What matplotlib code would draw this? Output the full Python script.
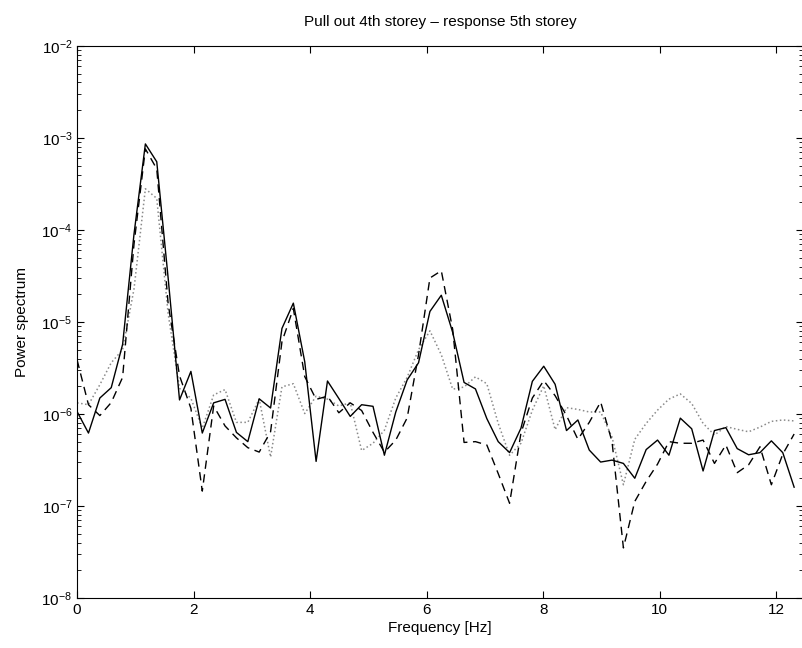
import numpy as np
import matplotlib
matplotlib.use("Agg")
import matplotlib.pyplot as plt

plt.rcParams['font.family'] = ['Liberation Sans', 'DejaVu Sans']
plt.rcParams['mathtext.fontset'] = 'custom'
plt.rcParams['mathtext.rm'] = 'Liberation Sans'
plt.rcParams['mathtext.it'] = 'Liberation Sans:italic'

## frequency grid: 64 spectral lines, 12.5/64 Hz apart
df = 12.5 / 64
freq = np.arange(64) * df

## solid line
solid = [1.06e-6, 6.2e-7, 1.49e-6, 1.93e-6, 5.7e-6, 9.0e-5, 8.6e-4, 5.5e-4,
         3.0e-5, 1.42e-6, 2.9e-6, 6.2e-7, 1.32e-6, 1.44e-6, 6.3e-7, 5.0e-7,
         1.46e-6, 1.16e-6, 8.5e-6, 1.6e-5, 3.7e-6, 3.05e-7, 2.28e-6, 1.47e-6,
         9.4e-7, 1.26e-6, 1.21e-6, 3.56e-7, 1.05e-6, 2.34e-6, 3.6e-6, 1.3e-5,
         1.95e-5, 7.7e-6, 2.2e-6, 1.87e-6, 8.9e-7, 5.0e-7, 3.8e-7, 7.0e-7,
         2.26e-6, 3.3e-6, 2.1e-6, 6.6e-7, 8.6e-7, 4.05e-7, 3.0e-7, 3.15e-7,
         2.9e-7, 2.0e-7, 4.1e-7, 5.2e-7, 3.56e-7, 9.0e-7, 6.9e-7, 2.4e-7,
         6.6e-7, 7.1e-7, 4.2e-7, 3.6e-7, 3.8e-7, 5.1e-7, 3.8e-7, 1.6e-7]

## dashed line
dashed = [3.86e-6, 1.26e-6, 9.6e-7, 1.33e-6, 2.5e-6, 7.0e-5, 7.6e-4, 4.6e-4,
          1.58e-5, 2.6e-6, 1.15e-6, 1.45e-7, 1.22e-6, 7.4e-7, 5.5e-7, 4.3e-7,
          3.85e-7, 6.4e-7, 6.1e-6, 1.4e-5, 2.55e-6, 1.44e-6, 1.56e-6, 1.03e-6,
          1.32e-6, 1.09e-6, 6.3e-7, 3.84e-7, 5.2e-7, 9.05e-7, 4.4e-6, 3.0e-5,
          3.6e-5, 8.3e-6, 4.9e-7, 5.0e-7, 4.6e-7, 2.25e-7, 1.07e-7, 6.2e-7,
          1.49e-6, 2.3e-6, 1.58e-6, 9.6e-7, 5.3e-7, 8.1e-7, 1.35e-6, 5.0e-7,
          3.5e-8, 1.12e-7, 1.85e-7, 2.85e-7, 5.0e-7, 4.8e-7, 4.8e-7, 5.2e-7,
          2.9e-7, 4.6e-7, 2.3e-7, 2.8e-7, 4.4e-7, 1.7e-7, 3.65e-7, 6.05e-7]

## dotted line
dotted = [1.32e-6, 1.26e-6, 2.08e-6, 3.6e-6, 5.0e-6, 2.28e-5, 2.8e-4, 2.2e-4,
          1.23e-5, 1.9e-6, 1.48e-6, 7.0e-7, 1.61e-6, 1.84e-6, 8.1e-7, 8.1e-7,
          1.45e-6, 3.4e-7, 1.97e-6, 2.13e-6, 1.01e-6, 1.56e-6, 1.45e-6, 1.22e-6,
          1.32e-6, 4.0e-7, 4.8e-7, 6.65e-7, 1.49e-6, 2.5e-6, 5.0e-6, 8.0e-6,
          4.4e-6, 1.86e-6, 1.96e-6, 2.53e-6, 2.13e-6, 7.9e-7, 3.55e-7, 4.8e-7,
          1.1e-6, 2.02e-6, 6.75e-7, 1.17e-6, 1.12e-6, 1.05e-6, 1.05e-6, 5.6e-7,
          1.7e-7, 5.3e-7, 7.9e-7, 1.1e-6, 1.45e-6, 1.65e-6, 1.3e-6, 7.9e-7,
          5.9e-7, 7.3e-7, 6.8e-7, 6.4e-7, 7.2e-7, 8.3e-7, 8.6e-7, 8.4e-7]

xticks = [0, 2, 4, 6, 8, 10, 12]

fig = plt.figure(figsize=(8.03, 6.48), dpi=100)
ax = fig.add_axes([0.096, 0.0772, 0.9035, 0.852])

ax.plot(freq, dotted, color='#8a8a8a', linestyle=':', linewidth=1.1)
ax.plot(freq, dashed, color='black', linestyle=(0, (6, 4)), linewidth=1.0)
ax.plot(freq, solid, color='black', linestyle='-', linewidth=1.0)

ax.set_yscale('log')
ax.set_ylim(1e-8, 1e-2)
ax.set_xlim(0, 12.45)
ax.set_xticks(xticks)
ax.tick_params(which='both', direction='in', top=True, right=True,
               labelsize=11)
ax.tick_params(which='major', length=5)
ax.tick_params(which='minor', length=3)
ax.minorticks_on()
ax.xaxis.set_minor_locator(matplotlib.ticker.NullLocator())

ax.set_title('Pull out 4th storey – response 5th storey', fontsize=11, pad=14)
ax.set_xlabel('Frequency [Hz]', fontsize=11, labelpad=3)
ax.set_ylabel('Power spectrum', fontsize=11, labelpad=9)

fig.savefig('out.png', dpi=100)
